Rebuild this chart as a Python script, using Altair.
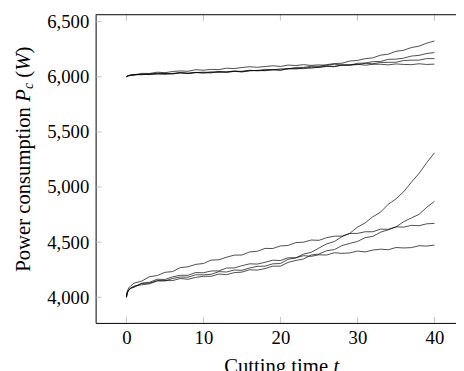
import altair as alt
import pandas as pd

# time grid (cutting time t)
TIME = [0, 0.1, 0.3, 0.6] + list(range(1, 41))

# upper group (around 6,000 W)
U1 = [6000, 6005, 6010, 6014,
      6021, 6018, 6029, 6024, 6031, 6025, 6038, 6033, 6038, 6034,
      6045, 6039, 6046, 6052, 6046, 6057, 6056, 6068, 6062, 6072,
      6072, 6085, 6085, 6096, 6094, 6110, 6120, 6123, 6143, 6148,
      6164, 6172, 6196, 6205, 6231, 6241, 6265, 6278, 6305, 6325]
U2 = [6000, 6004, 6009, 6013,
      6014, 6025, 6019, 6028, 6021, 6031, 6035, 6030, 6040, 6036,
      6035, 6047, 6041, 6049, 6044, 6053, 6059, 6055, 6063, 6059,
      6074, 6071, 6080, 6078, 6088, 6097, 6095, 6106, 6106, 6122,
      6125, 6137, 6139, 6158, 6160, 6169, 6188, 6194, 6211, 6220]
U3 = [6000, 6006, 6011, 6015,
      6021, 6021, 6021, 6032, 6031, 6028, 6037, 6030, 6038, 6042,
      6039, 6048, 6041, 6050, 6050, 6060, 6054, 6058, 6067, 6061,
      6073, 6075, 6074, 6087, 6084, 6094, 6091, 6106, 6108, 6110,
      6122, 6118, 6130, 6131, 6132, 6147, 6151, 6151, 6165, 6165]
U4 = [6000, 6007, 6012, 6017,
      6018, 6031, 6030, 6042, 6037, 6048, 6053, 6050, 6064, 6060,
      6067, 6065, 6078, 6075, 6084, 6091, 6086, 6093, 6100, 6094,
      6106, 6102, 6110, 6103, 6108, 6104, 6114, 6107, 6106, 6114,
      6105, 6113, 6114, 6108, 6117, 6112, 6110, 6118, 6112, 6115]

# lower group (around 4,000 W)
L1 = [4000, 4040, 4066, 4086,
      4095, 4127, 4128, 4151, 4148, 4170, 4183, 4182, 4204, 4203,
      4208, 4232, 4229, 4247, 4244, 4265, 4280, 4282, 4303, 4306,
      4344, 4357, 4391, 4408, 4446, 4484, 4505, 4550, 4579, 4636,
      4674, 4730, 4772, 4843, 4892, 4957, 5043, 5123, 5221, 5310]
L2 = [4000, 4042, 4068, 4085,
      4102, 4113, 4122, 4147, 4151, 4151, 4170, 4163, 4180, 4190,
      4190, 4210, 4205, 4223, 4228, 4249, 4246, 4260, 4282, 4282,
      4316, 4334, 4347, 4383, 4392, 4422, 4432, 4469, 4488, 4506,
      4541, 4552, 4590, 4612, 4637, 4685, 4719, 4752, 4816, 4870]
L3 = [4000, 4052, 4085, 4106,
      4128, 4147, 4186, 4197, 4226, 4233, 4269, 4276, 4298, 4306,
      4337, 4340, 4363, 4382, 4383, 4411, 4417, 4443, 4442, 4465,
      4470, 4496, 4499, 4519, 4516, 4540, 4554, 4554, 4579, 4579,
      4594, 4594, 4618, 4616, 4639, 4636, 4652, 4649, 4666, 4670]
L4 = [4000, 4038, 4062, 4082,
      4090, 4126, 4136, 4163, 4161, 4185, 4199, 4199, 4224, 4222,
      4238, 4239, 4265, 4266, 4286, 4303, 4301, 4317, 4336, 4333,
      4358, 4358, 4377, 4371, 4385, 4383, 4404, 4398, 4402, 4419,
      4411, 4428, 4436, 4431, 4451, 4447, 4450, 4467, 4464, 4473]

SERIES = {"U1": U1, "U2": U2, "U3": U3, "U4": U4,
          "L1": L1, "L2": L2, "L3": L3, "L4": L4}

X_TICKS = [0, 10, 20, 30, 40]
Y_TICKS = [4000, 4500, 5000, 5500, 6000, 6500]

rows = []
for name, vals in SERIES.items():
    for t, v in zip(TIME, vals):
        rows.append({"s": name, "t": t, "v": v})
df = pd.DataFrame(rows)

W, H = 366, 313
FONT = "Liberation Serif"
TICK_GRAY = "#b4b4b4"

xscale = alt.Scale(domain=[-4, 42.8], nice=False, zero=False)
yscale = alt.Scale(domain=[3767, 6563], nice=False, zero=False)
xaxis = alt.Axis(values=X_TICKS, ticks=False, grid=False, title=None,
                 domainColor="black", domainWidth=1, labelPadding=6,
                 labelFont=FONT, labelFontSize=19, labelColor="black")
yaxis = alt.Axis(values=Y_TICKS, format=",d", ticks=False, grid=False, title=None,
                 domainColor="black", domainWidth=1, labelPadding=7,
                 labelFont=FONT, labelFontSize=19, labelColor="black")
X = alt.X("t:Q", scale=xscale, axis=xaxis)
Y = alt.Y("v:Q", scale=yscale, axis=yaxis)

lines = alt.Chart(df).mark_line(color="black", strokeWidth=0.7).encode(
    x=X, y=Y, detail="s:N")

xt = pd.DataFrame({"t": X_TICKS})
yt = pd.DataFrame({"v": Y_TICKS})
xticks_bottom = alt.Chart(xt).mark_rule(color=TICK_GRAY, strokeWidth=0.8).encode(
    x=X, y=alt.value(H), y2=alt.value(H - 6))
xticks_top = alt.Chart(xt).mark_rule(color=TICK_GRAY, strokeWidth=0.8).encode(
    x=X, y=alt.value(0), y2=alt.value(6))
yticks_left = alt.Chart(yt).mark_rule(color=TICK_GRAY, strokeWidth=0.8).encode(
    y=Y, x=alt.value(0), x2=alt.value(6))
top_border = alt.Chart(xt.head(1)).mark_rule(color="black", strokeWidth=1).encode(
    x=alt.value(0), x2=alt.value(W), y=alt.value(0))

one = pd.DataFrame({"a": [0]})


def label(text, x, y, size=21, italic=False, angle=0, align="left", baseline="middle"):
    kw = dict(text=text, font=FONT, fontSize=size, color="black",
              align=align, baseline=baseline)
    if italic:
        kw["fontStyle"] = "italic"
    if angle:
        kw["angle"] = angle
    return alt.Chart(one).mark_text(**kw).encode(x=alt.value(x), y=alt.value(y))


YX = -73
ytitle = [
    label("Power consumption", YX, 261, angle=270),
    label("P", YX, 88.3, italic=True, angle=270),
    label("c", YX + 5, 75.5, size=14, italic=True, angle=270),
    label("(", YX, 64.0, angle=270),
    label("W", YX, 57.0, italic=True, angle=270),
    label(")", YX, 39.5, angle=270),
]
xtitle = [
    label("Cutting time", 130.6, 364, baseline="alphabetic"),
    label("t", 241.5, 364, italic=True, baseline="alphabetic"),
]

chart = alt.layer(
    lines, xticks_bottom, xticks_top, yticks_left, top_border, *ytitle, *xtitle
).properties(
    width=W, height=H,
    autosize=alt.AutoSizeParams(type="none"),
    padding={"left": 89, "top": 4, "right": 0, "bottom": 46},
).configure_view(stroke=None)

chart.save("out.html", embed_options={"renderer": "svg", "actions": False})
